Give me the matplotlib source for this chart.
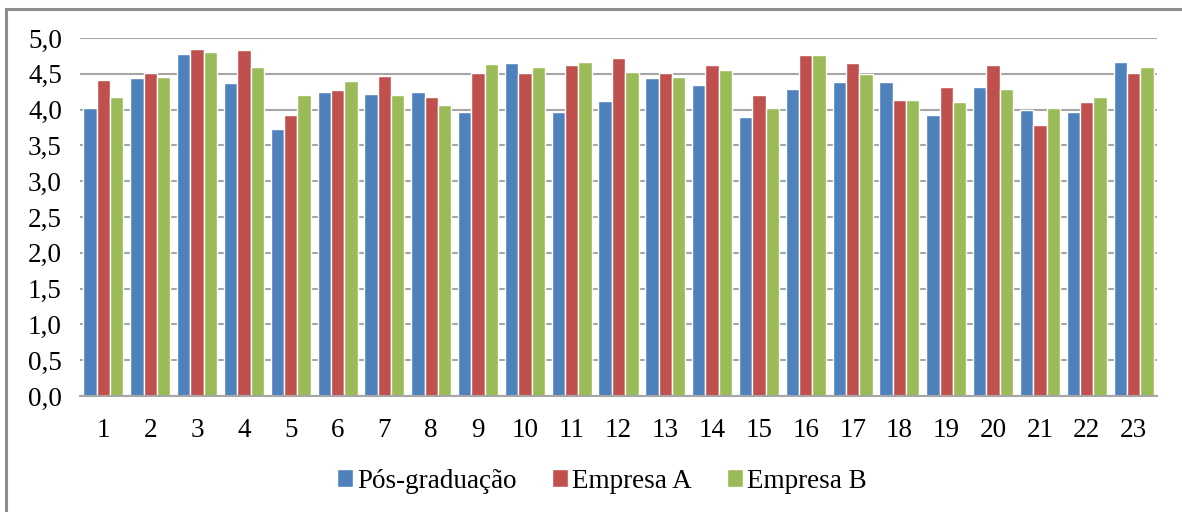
import matplotlib
matplotlib.use("Agg")
import matplotlib.pyplot as plt
from matplotlib.lines import Line2D
import numpy as np

categories = [str(i) for i in range(1, 24)]
pos_graduacao = [4.02, 4.44, 4.78, 4.37, 3.73, 4.24, 4.22, 4.24, 3.97, 4.65, 3.97, 4.12,
                 4.44, 4.35, 3.90, 4.29, 4.38, 4.38, 3.92, 4.31, 4.00, 3.97, 4.67]
empresa_a = [4.42, 4.51, 4.85, 4.83, 3.93, 4.27, 4.47, 4.17, 4.51, 4.51, 4.62, 4.72,
             4.51, 4.62, 4.20, 4.76, 4.65, 4.13, 4.31, 4.62, 3.79, 4.10, 4.51]
empresa_b = [4.17, 4.46, 4.80, 4.60, 4.20, 4.40, 4.20, 4.06, 4.63, 4.60, 4.67, 4.53,
             4.45, 4.56, 4.02, 4.76, 4.50, 4.13, 4.10, 4.29, 4.02, 4.17, 4.60]
series_names = ["Pós-graduação", "Empresa A", "Empresa B"]
y_ticks = [0.0, 0.5, 1.0, 1.5, 2.0, 2.5, 3.0, 3.5, 4.0, 4.5, 5.0]

colors = ["#4F81BD", "#C0504D", "#9BBB59"]
plt.rcParams["font.family"] = ["Liberation Serif", "DejaVu Serif"]
FS = 19.5

fig = plt.figure(figsize=(11.82, 5.12), dpi=100)
ax = fig.add_axes([80 / 1182, 1 - 396 / 512, (1157 - 80) / 1182, (396 - 38) / 512])

x = np.arange(len(categories))
width = 0.285
for k, (vals, name) in enumerate(zip([pos_graduacao, empresa_a, empresa_b], series_names)):
    ax.bar(x + (k - 1) * width, vals, width=width, color=colors[k],
           edgecolor="white", linewidth=1.0, label=name, zorder=3)

ax.set_xlim(-0.5, len(categories) - 0.5)
ax.set_ylim(0, 5.0)
ax.set_yticks(y_ticks)
ax.set_yticklabels([f"{v:.1f}".replace(".", ",") for v in y_ticks], fontsize=FS)
ax.set_xticks(x)
ax.set_xticklabels(categories, fontsize=FS)
ax.tick_params(axis="both", length=0)
ax.tick_params(axis="y", pad=13)
ax.tick_params(axis="x", pad=16)

ax.yaxis.grid(True, color="#A6A6A6", linewidth=1.5, zorder=0)
for s in ["top", "right", "left"]:
    ax.spines[s].set_visible(False)
ax.spines["bottom"].set_color("#A6A6A6")
ax.spines["bottom"].set_linewidth(1.5)
ax.spines["bottom"].set_zorder(4)

handles, labels = ax.get_legend_handles_labels()
fig.legend(handles, labels, loc="center", bbox_to_anchor=(602 / 1182, 1 - 481 / 512),
           ncol=3, frameon=False, fontsize=FS, handlelength=0.6, handleheight=0.6,
           handletextpad=0.15, columnspacing=1.3)

# chart frame edges
fig.add_artist(Line2D([6 / 1182, 6 / 1182], [0, 1 - 9 / 512], transform=fig.transFigure,
                      color="#8C8C8C", linewidth=2.2))
fig.add_artist(Line2D([6 / 1182, 1], [1 - 9 / 512, 1 - 9 / 512], transform=fig.transFigure,
                      color="#8C8C8C", linewidth=2.2))

fig.savefig("out.png", dpi=100)
